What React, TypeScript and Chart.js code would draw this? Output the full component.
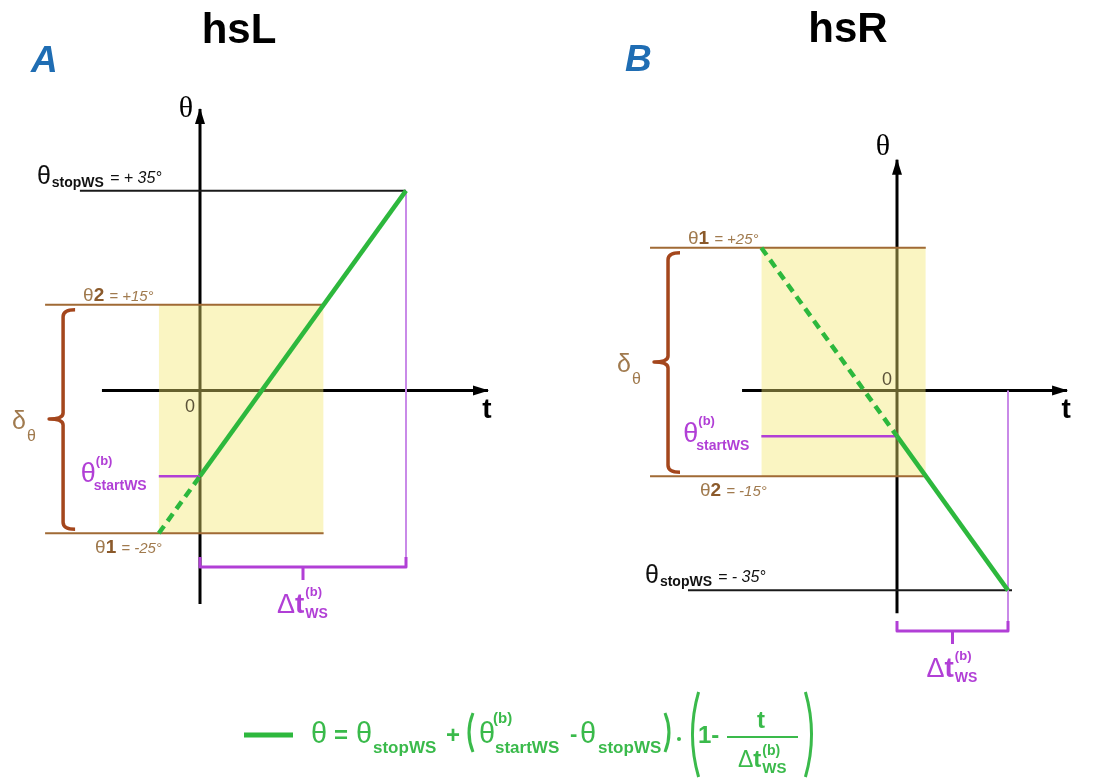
import React, { useEffect, useRef } from 'react';
import { Chart, registerables } from 'chart.js';

Chart.register(...registerables);

// ---------------- data ----------------
const PANEL_TITLES = ['hsL', 'hsR'];
const PANEL_LETTERS = ['A', 'B'];
const THETA_1 = [-25, 25];        // deg
const THETA_2 = [15, -15];        // deg
const THETA_START = [-15, -8];    // deg, θ(b) startWS
const THETA_STOP = [35, -35];     // deg, θ stopWS
const DT_WS = [1, 1];             // normalised Δt(b)WS

// extents of the drawn guide lines, in data units (t, θ)
const T_AXIS_FROM = [-0.476, -1.396];
const T_AXIS_TO = [1.398, 1.532];
const THETA_AXIS_FROM = [-37.4, -39.0];
const THETA_AXIS_TO = [49.3, 40.4];
const STOP_LINE_FROM = [-0.583, -1.883];
const STOP_LINE_TO = [1.0, 1.036];
const LIMIT_LINE_FROM = [-0.752, -2.225];
const BRACKET_THETA = [-30.9, -42.1];

// ---------------- layout / style ----------------
const W = 1104;
const H = 778;
const X_ORIGIN_PX = [200, 897];
const X_PX_PER_UNIT = [206, 111];
const Y_ORIGIN_PX = 390.5;
const Y_PX_PER_DEG = 5.71;
const TITLE_POS = [[239, 43], [848, 42]];
const LETTER_POS = [[31, 72], [625, 71]];
const AXIS_LABEL_POS = [[186, 117], [883, 155]];
const ZERO_DY = [21, -6];

const SANS = '"Liberation Sans", Arial, Helvetica, sans-serif';
const SERIF = '"Liberation Serif", "Times New Roman", serif';
const GREEN = '#2db83d';
const GREEN_TXT = '#3aba4b';
const MAGENTA = '#b13fd6';
const MAGENTA_LIGHT = '#c98ae8';
const BROWN_LINE = '#a06a35';
const BROWN_TXT = '#a07a4e';
const BROWN_DIGIT = '#8b5a2b';
const BRACE = '#a4461c';
const YELLOW = 'rgba(243,230,110,0.42)';
const BLUE = '#1f6db3';

const X_IDS = ['xA', 'xB'];

const tAt = (p: number, th: number) =>
  (DT_WS[p] * (th - THETA_START[p])) / (THETA_STOP[p] - THETA_START[p]);

const signed = (v: number, space: boolean) =>
  `= ${v >= 0 ? '+' : '-'}${space ? ' ' : ''}${Math.abs(v)}°`;

function buildDatasets() {
  const ds: any[] = [];
  for (let p = 0; p < 2; p++) {
    const xAxisID = X_IDS[p];
    const t1 = tAt(p, THETA_1[p]);
    const t2 = tAt(p, THETA_2[p]);
    const tLo = Math.min(t1, t2);
    const tHi = Math.max(t1, t2);
    const thLo = Math.min(THETA_1[p], THETA_2[p]);
    const thHi = Math.max(THETA_1[p], THETA_2[p]);
    const base = {
      xAxisID,
      yAxisID: 'y',
      pointRadius: 0,
      pointHoverRadius: 0,
      tension: 0,
      fill: false,
      borderCapStyle: 'butt',
    };
    // model line (solid part, inside the window)
    ds.push({
      ...base,
      label: 'θ model ' + PANEL_TITLES[p],
      data: [
        { x: 0, y: THETA_START[p] },
        { x: DT_WS[p], y: THETA_STOP[p] },
      ],
      borderColor: GREEN,
      borderWidth: 4.5,
      order: 1,
    });
    // extrapolated dashed part
    ds.push({
      ...base,
      label: 'θ extrapolated ' + PANEL_TITLES[p],
      data: [
        { x: t1, y: THETA_1[p] },
        { x: 0, y: THETA_START[p] },
      ],
      borderColor: GREEN,
      borderWidth: 4.5,
      borderDash: [9, 6],
      order: 2,
    });
    // θ startWS marker
    ds.push({
      ...base,
      label: 'θ startWS',
      data: [
        { x: tLo, y: THETA_START[p] },
        { x: 0, y: THETA_START[p] },
      ],
      borderColor: MAGENTA,
      borderWidth: 2.5,
      order: 3,
    });
    // Δt end marker
    ds.push({
      ...base,
      label: 'Δt end',
      data: [
        { x: DT_WS[p], y: Math.max(THETA_STOP[p], 0) },
        { x: DT_WS[p], y: BRACKET_THETA[p] },
      ],
      borderColor: MAGENTA_LIGHT,
      borderWidth: 2,
      order: 3,
    });
    // θ1 / θ2 limit lines
    [THETA_1[p], THETA_2[p]].forEach((th) => {
      ds.push({
        ...base,
        label: 'limit',
        data: [
          { x: LIMIT_LINE_FROM[p], y: th },
          { x: tHi, y: th },
        ],
        borderColor: BROWN_LINE,
        borderWidth: 2,
        order: 4,
      });
    });
    // θ stopWS line
    ds.push({
      ...base,
      label: 'θ stopWS',
      data: [
        { x: STOP_LINE_FROM[p], y: THETA_STOP[p] },
        { x: STOP_LINE_TO[p], y: THETA_STOP[p] },
      ],
      borderColor: '#1a1a1a',
      borderWidth: 2,
      order: 5,
    });
    // window box (yellow)
    ds.push({
      ...base,
      label: 'window',
      data: [
        { x: tLo, y: thHi },
        { x: tHi, y: thHi },
      ],
      borderWidth: 0,
      borderColor: 'rgba(0,0,0,0)',
      backgroundColor: YELLOW,
      fill: { value: thLo },
      order: 8,
    });
    // axes
    ds.push({
      ...base,
      label: 't axis',
      data: [
        { x: T_AXIS_FROM[p], y: 0 },
        { x: T_AXIS_TO[p], y: 0 },
      ],
      borderColor: '#000',
      borderWidth: 3,
      order: 9,
    });
    ds.push({
      ...base,
      label: 'θ axis',
      data: [
        { x: 0, y: THETA_AXIS_FROM[p] },
        { x: 0, y: THETA_AXIS_TO[p] },
      ],
      borderColor: '#000',
      borderWidth: 3,
      order: 9,
    });
  }
  return ds;
}

function txt(ctx: CanvasRenderingContext2D, s: string, x: number, y: number, font: string, color: string, align: CanvasTextAlign = 'left') {
  ctx.font = font;
  ctx.fillStyle = color;
  ctx.textAlign = align;
  ctx.textBaseline = 'alphabetic';
  ctx.fillText(s, x, y);
  return ctx.measureText(s).width;
}

function paren(ctx: CanvasRenderingContext2D, x: number, top: number, bot: number, open: boolean, color: string) {
  const d = open ? 1 : -1;
  const bulge = Math.max(5, (bot - top) * 0.09);
  ctx.beginPath();
  ctx.moveTo(x + d * bulge * 0.6, top);
  ctx.quadraticCurveTo(x - d * bulge, (top + bot) / 2, x + d * bulge * 0.6, bot);
  ctx.strokeStyle = color;
  ctx.lineWidth = 3;
  ctx.stroke();
}

const annotations = {
  id: 'annotations',
  afterDatasetsDraw(chart: any) {
    const ctx: CanvasRenderingContext2D = chart.ctx;
    const ys = chart.scales.y;
    ctx.save();
    ctx.lineCap = 'butt';
    ctx.lineJoin = 'round';
    for (let p = 0; p < 2; p++) {
      const xs = chart.scales[X_IDS[p]];
      const X = (t: number) => xs.getPixelForValue(t);
      const Y = (v: number) => ys.getPixelForValue(v);
      const t1 = tAt(p, THETA_1[p]);
      const t2 = tAt(p, THETA_2[p]);
      const tLo = Math.min(t1, t2);
      const thLo = Math.min(THETA_1[p], THETA_2[p]);
      const thHi = Math.max(THETA_1[p], THETA_2[p]);

      // title + panel letter
      txt(ctx, PANEL_TITLES[p], TITLE_POS[p][0], TITLE_POS[p][1], `bold 42px ${SANS}`, '#000', 'center');
      txt(ctx, PANEL_LETTERS[p], LETTER_POS[p][0], LETTER_POS[p][1], `italic bold 37px ${SANS}`, BLUE);

      // arrow heads
      ctx.fillStyle = '#000';
      const ax = X(T_AXIS_TO[p]);
      const ay = Y(0);
      ctx.beginPath();
      ctx.moveTo(ax + 1, ay);
      ctx.lineTo(ax - 15, ay - 5);
      ctx.lineTo(ax - 15, ay + 5);
      ctx.closePath();
      ctx.fill();
      const yx = X(0);
      const yy = Y(THETA_AXIS_TO[p]);
      ctx.beginPath();
      ctx.moveTo(yx, yy - 1);
      ctx.lineTo(yx - 5, yy + 15);
      ctx.lineTo(yx + 5, yy + 15);
      ctx.closePath();
      ctx.fill();

      // axis labels
      txt(ctx, 'θ', AXIS_LABEL_POS[p][0], AXIS_LABEL_POS[p][1], `30px ${SERIF}`, '#000', 'center');
      txt(ctx, 't', ax - 1, ay + 27, `bold 28px ${SANS}`, '#000', 'center');
      txt(ctx, '0', X(0) - 5, ay + ZERO_DY[p], `18px ${SANS}`, '#5b5238', 'right');

      // θ stopWS label
      const sx = X(STOP_LINE_FROM[p]) - 43;
      const sy = Y(THETA_STOP[p]) - 7;
      const w0 = txt(ctx, 'θ', sx, sy, `25px ${SANS}`, '#111');
      const w1 = txt(ctx, 'stopWS', sx + w0 + 1, sy + 3, `bold 14px ${SANS}`, '#111');
      txt(ctx, signed(THETA_STOP[p], true), sx + w0 + w1 + 7, sy - 1, `italic 16px ${SANS}`, '#111');

      // θ1 / θ2 labels
      [
        [THETA_1[p], '1'],
        [THETA_2[p], '2'],
      ].forEach(([th, idx]: any) => {
        const upper = th === thHi;
        const lx = X(LIMIT_LINE_FROM[p]) + (upper ? 38 : 50);
        const ly = Y(th) + (upper ? -4 : 20);
        const a = txt(ctx, 'θ', lx, ly, `19px ${SANS}`, BROWN_TXT);
        const b = txt(ctx, idx, lx + a, ly, `bold 19px ${SANS}`, BROWN_DIGIT);
        txt(ctx, signed(th, false), lx + a + b + 5, ly, `italic 15px ${SANS}`, BROWN_TXT);
      });

      // δθ brace
      const bx = X(LIMIT_LINE_FROM[p]) + 18;
      const top = Y(thHi) + 5;
      const bot = Y(thLo) - 4;
      const mid = (Y(thHi) + Y(thLo)) / 2;
      ctx.beginPath();
      ctx.moveTo(bx + 12, top);
      ctx.quadraticCurveTo(bx, top, bx, top + 7);
      ctx.lineTo(bx, mid - 6);
      ctx.quadraticCurveTo(bx, mid, bx - 14, mid);
      ctx.quadraticCurveTo(bx, mid, bx, mid + 6);
      ctx.lineTo(bx, bot - 7);
      ctx.quadraticCurveTo(bx, bot, bx + 12, bot);
      ctx.strokeStyle = BRACE;
      ctx.lineWidth = 3.5;
      ctx.stroke();
      const dx = X(LIMIT_LINE_FROM[p]) - 33;
      const dw = txt(ctx, 'δ', dx, mid + 10, `25px ${SANS}`, BROWN_TXT);
      txt(ctx, 'θ', dx + dw + 1, mid + 22, `16px ${SANS}`, BROWN_TXT);

      // θ(b) startWS label
      const qx = X(tLo) - 78;
      const qy = Y(THETA_START[p]) + 6;
      txt(ctx, 'θ', qx, qy, `27px ${SANS}`, MAGENTA);
      txt(ctx, '(b)', qx + 15, qy - 17, `bold 13px ${SANS}`, MAGENTA);
      txt(ctx, 'startWS', qx + 13, qy + 8, `bold 14px ${SANS}`, MAGENTA);

      // Δt bracket
      const bl = X(0);
      const br = X(DT_WS[p]);
      const by = Y(BRACKET_THETA[p]);
      const cx = (bl + br) / 2;
      ctx.beginPath();
      ctx.moveTo(bl, by - 10);
      ctx.lineTo(bl, by);
      ctx.lineTo(br, by);
      ctx.lineTo(br, by - 10);
      ctx.moveTo(cx, by);
      ctx.lineTo(cx, by + 13);
      ctx.strokeStyle = MAGENTA;
      ctx.lineWidth = 3;
      ctx.stroke();
      const tb = by + 13 + 33;
      const dW = txt(ctx, 'Δ', cx - 26, tb, `27px ${SANS}`, MAGENTA);
      const tW = txt(ctx, 't', cx - 26 + dW, tb, `bold 28px ${SANS}`, MAGENTA);
      const sx2 = cx - 26 + dW + tW + 1;
      txt(ctx, '(b)', sx2, tb - 17, `bold 13px ${SANS}`, MAGENTA);
      txt(ctx, 'WS', sx2, tb + 5, `bold 14px ${SANS}`, MAGENTA);
    }

    // ---- legend / formula ----
    ctx.strokeStyle = GREEN;
    ctx.lineWidth = 5;
    ctx.beginPath();
    ctx.moveTo(244, 735);
    ctx.lineTo(293, 735);
    ctx.stroke();
    const G = GREEN_TXT;
    txt(ctx, 'θ', 311, 743, `29px ${SANS}`, G);
    txt(ctx, '=', 334, 743, `bold 24px ${SANS}`, G);
    txt(ctx, 'θ', 356, 743, `29px ${SANS}`, G);
    txt(ctx, 'stopWS', 373, 753, `bold 17px ${SANS}`, G);
    txt(ctx, '+', 446, 743, `bold 24px ${SANS}`, G);
    paren(ctx, 470, 713, 752, true, G);
    txt(ctx, 'θ', 479, 743, `29px ${SANS}`, G);
    txt(ctx, '(b)', 493, 723, `bold 15px ${SANS}`, G);
    txt(ctx, 'startWS', 495, 753, `bold 17px ${SANS}`, G);
    txt(ctx, '-', 570, 741, `bold 22px ${SANS}`, G);
    txt(ctx, 'θ', 580, 743, `29px ${SANS}`, G);
    txt(ctx, 'stopWS', 598, 753, `bold 17px ${SANS}`, G);
    paren(ctx, 668, 713, 752, false, G);
    ctx.fillStyle = G;
    ctx.beginPath();
    ctx.arc(679, 739, 2, 0, Math.PI * 2);
    ctx.fill();
    paren(ctx, 694, 692, 777, true, G);
    txt(ctx, '1-', 698, 743, `bold 24px ${SANS}`, G);
    txt(ctx, 't', 761, 728, `bold 24px ${SANS}`, G, 'center');
    ctx.strokeStyle = G;
    ctx.lineWidth = 2;
    ctx.beginPath();
    ctx.moveTo(727, 737);
    ctx.lineTo(798, 737);
    ctx.stroke();
    const dw2 = txt(ctx, 'Δ', 738, 767, `23px ${SANS}`, G);
    const tw2 = txt(ctx, 't', 738 + dw2, 767, `bold 24px ${SANS}`, G);
    txt(ctx, '(b)', 738 + dw2 + tw2 + 1, 755, `bold 14px ${SANS}`, G);
    txt(ctx, 'WS', 738 + dw2 + tw2 + 1, 773, `bold 15px ${SANS}`, G);
    paren(ctx, 810, 692, 777, false, G);

    ctx.restore();
  },
};

export default function App() {
  const ref = useRef<HTMLCanvasElement | null>(null);
  useEffect(() => {
    if (!ref.current) return;
    const xScale = (p: number) => ({
      type: 'linear',
      display: false,
      min: -X_ORIGIN_PX[p] / X_PX_PER_UNIT[p],
      max: (W - X_ORIGIN_PX[p]) / X_PX_PER_UNIT[p],
    });
    const chart = new Chart(ref.current, {
      type: 'line',
      data: { datasets: buildDatasets() },
      options: {
        responsive: false,
        devicePixelRatio: 1,
        animation: false,
        events: [],
        layout: { padding: 0 },
        plugins: {
          legend: { display: false },
          tooltip: { enabled: false },
          filler: { drawTime: 'beforeDatasetDraw' },
        },
        scales: {
          xA: xScale(0),
          xB: xScale(1),
          y: {
            type: 'linear',
            display: false,
            min: -(H - Y_ORIGIN_PX) / Y_PX_PER_DEG,
            max: Y_ORIGIN_PX / Y_PX_PER_DEG,
          },
        },
      } as any,
      plugins: [annotations],
    } as any);
    return () => chart.destroy();
  }, []);
  return (
    <div style={{ position: 'fixed', left: 0, top: 0, width: W, height: H, background: '#fff' }}>
      <canvas ref={ref} width={W} height={H} style={{ display: 'block' }} />
    </div>
  );
}
